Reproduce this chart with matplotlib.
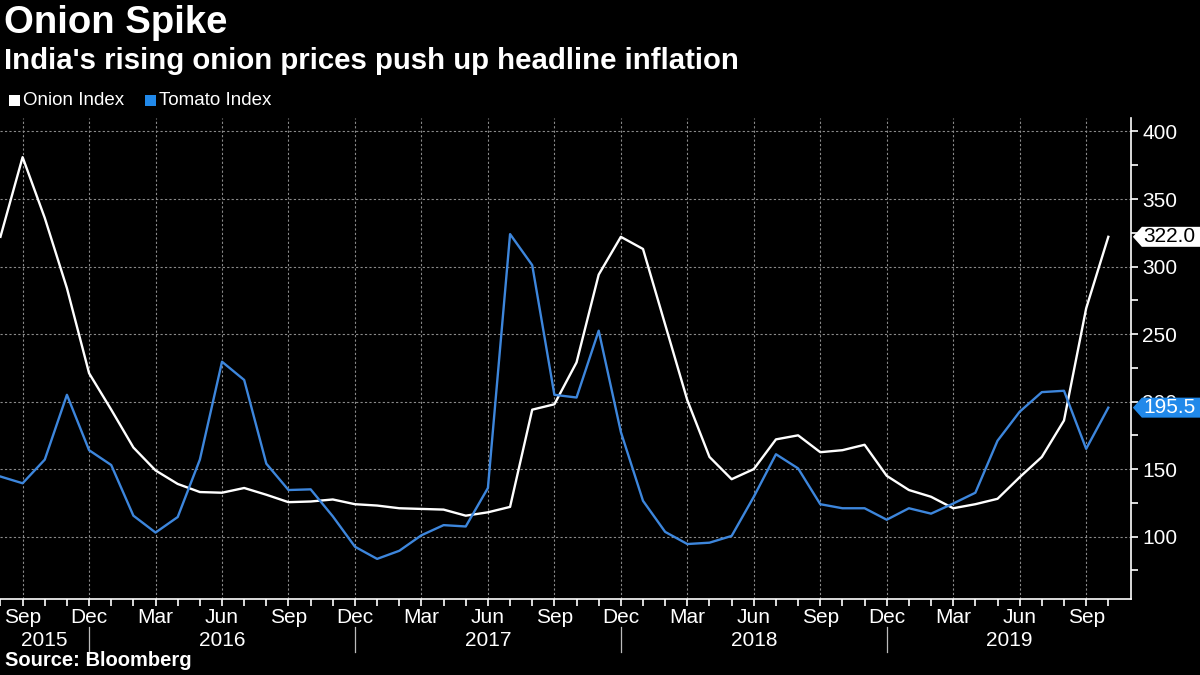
import numpy as np
import pandas as pd
import matplotlib
matplotlib.use("Agg")
import matplotlib.pyplot as plt
import matplotlib.transforms as mtransforms
from matplotlib.patches import Rectangle, Polygon

plt.rcParams['font.family'] = ['Liberation Sans', 'DejaVu Sans']

# --- data (monthly, Aug 2015 - Oct 2019) ---
months = pd.date_range('2015-08-01', '2019-10-01', freq='MS')
onion = [322, 381, 336, 284, 221,
         194, 166, 149, 139, 133, 132.5, 136, 131, 125.5, 126, 127.5, 124,
         123, 121, 120.5, 120, 115.5, 118, 122, 194, 198, 229, 294, 322,
         313, 257, 201, 159, 142.5, 150, 172, 175, 162.5, 164, 168, 145,
         134.5, 129.5, 121, 124, 128, 144, 159, 186, 269, 322]
tomato = [144.5, 139.5, 157, 205, 164,
          153, 115.5, 103, 114.5, 157, 229.5, 216, 154, 134.5, 135, 115, 92.5,
          83.5, 89.5, 101, 108.5, 107.5, 136, 324, 301, 205, 203, 252.5, 177.5,
          126.5, 103.5, 94.5, 95.5, 100.5, 129.5, 161, 150.5, 124, 121, 121, 112.5,
          121, 117, 124.5, 132.5, 171, 192.5, 207, 208, 165, 195.5]
years = ['2015', '2016', '2017', '2018', '2019']

BG = 'black'
BLUE = '#3d86dc'
TAG_BLUE = '#2189ea'
GRID = '#8a8a8a'

x = np.arange(len(months))

fig = plt.figure(figsize=(12, 6.75), dpi=100, facecolor=BG)
ax = fig.add_axes([0.0, 0.1122, 0.9428, 0.7130], facecolor=BG)

ax.plot(x, onion, color='white', lw=1.7, zorder=3)
ax.plot(x, tomato, color=BLUE, lw=1.7, zorder=3)

ax.set_xlim(-0.02, 51.04)
ax.set_ylim(53.6, 410)

for s in ['left', 'top']:
    ax.spines[s].set_visible(False)
for s in ['bottom', 'right']:
    ax.spines[s].set_color('white')
    ax.spines[s].set_linewidth(1.2)

# y axis on the right
ax.yaxis.tick_right()
ax.set_yticks(np.arange(100, 401, 50))
ax.set_yticks(np.arange(75, 401, 50), minor=True)
ax.tick_params(axis='y', which='both', colors='white', length=5, width=1.2,
               labelsize=15, pad=3, direction='out')

# x axis: monthly ticks, quarterly labels
qtr = [i for i, m in enumerate(months) if m.month in (3, 6, 9, 12)]
ax.set_xticks(qtr)
ax.set_xticklabels([months[i].strftime('%b') for i in qtr])
ax.set_xticks(x, minor=True)
ax.tick_params(axis='x', which='both', colors='white', length=5, width=1.2,
               labelsize=15, pad=1, direction='out')

ax.grid(True, which='major', color=GRID, linestyle=(0, (2, 2)), linewidth=0.8)
ax.set_axisbelow(True)

# year labels and separators
trans = mtransforms.blended_transform_factory(ax.transData, ax.transAxes)
dec = [i for i, m in enumerate(months) if m.month == 12]
bounds = [-0.02] + dec + [51.04]
for k, yr in enumerate(years):
    xm = (bounds[k] + bounds[k + 1]) / 2
    ax.text(xm, -0.086, yr, transform=trans, ha='center', va='center',
            color='white', fontsize=15)
for d in dec:
    ax.plot([d, d], [-0.057, -0.11], transform=trans, color='#bbbbbb',
            lw=0.9, clip_on=False)

# last value tags, drawn in pixel space next to the right spine
px = mtransforms.IdentityTransform()
x0 = ax.transAxes.transform((1.0, 0))[0]

def tag(val, fc, tc):
    yv = ax.transData.transform((0, val))[1]
    verts = [(x0 + 1.5, yv), (x0 + 10.5, yv + 10), (1200, yv + 10),
             (1200, yv - 10), (x0 + 10.5, yv - 10)]
    fig.patches.append(Polygon(verts, closed=True, fc=fc, ec='none',
                               transform=px, zorder=6))
    fig.text(x0 + 12, yv, f'{val:.1f}', transform=px, ha='left', va='center',
             fontsize=15, color=tc, zorder=7)

tag(onion[-1], 'white', 'black')
tag(tomato[-1], TAG_BLUE, 'white')

# titles
fig.text(0.003, 0.993, 'Onion Spike', color='white', fontsize=27.5,
         fontweight='bold', va='top', ha='left')
fig.text(0.003, 0.931, "India's rising onion prices push up headline inflation",
         color='white', fontsize=21.2, fontweight='bold', va='top', ha='left')

# legend
fig.patches.append(Rectangle((9 / 1200, 569 / 675), 11 / 1200, 11 / 675,
                             transform=fig.transFigure, fc='white', ec='none'))
fig.patches.append(Rectangle((145 / 1200, 569 / 675), 11 / 1200, 11 / 675,
                             transform=fig.transFigure, fc=TAG_BLUE, ec='none'))
fig.text(23 / 1200, 0.851, 'Onion Index', color='white', fontsize=13.5,
         va='center', ha='left')
fig.text(159 / 1200, 0.851, 'Tomato Index', color='white', fontsize=13.5,
         va='center', ha='left')

fig.text(0.004, 0.007, 'Source: Bloomberg', color='white', fontsize=14.5,
         fontweight='bold', va='bottom', ha='left')

fig.savefig('out.png', dpi=100, facecolor=BG)
